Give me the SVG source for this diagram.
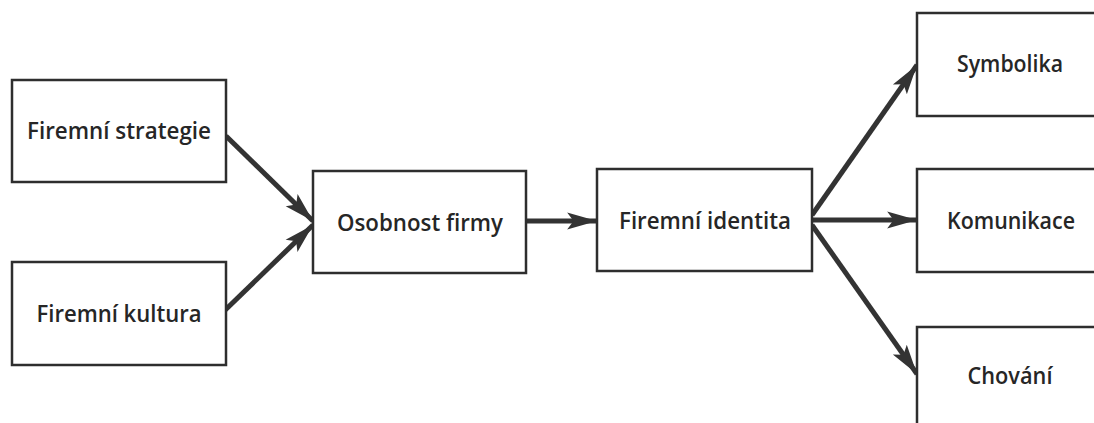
<svg xmlns="http://www.w3.org/2000/svg" width="1094" height="423" viewBox="0 0 1094 423">
<style>
.box{fill:#fff;stroke:#2e2e2e;stroke-width:2.5}
.lbl{font-family:"Open Sans","DejaVu Sans",sans-serif;font-weight:600;font-size:23px;fill:#262626;text-anchor:middle}
.con{stroke:#333;stroke-width:5;fill:none;marker-end:url(#ah)}
</style>
<defs>
<marker id="ah" markerUnits="userSpaceOnUse" markerWidth="32" markerHeight="20" refX="28" refY="9" orient="auto" viewBox="0 0 30 18">
<path d="M0,1 L28,9 L0,17 L6,9 Z" fill="#333"/>
</marker>
</defs>
<rect width="1094" height="423" fill="#fff"/>
<g id="connectors">
<line class="con" x1="226" y1="136" x2="313" y2="221"/>
<line class="con" x1="219" y1="316" x2="313" y2="225"/>
<line class="con" x1="526" y1="221" x2="597" y2="221"/>
<line class="con" x1="812" y1="215" x2="917" y2="65"/>
<line class="con" x1="812" y1="220" x2="917" y2="220"/>
<line class="con" x1="812" y1="225" x2="917" y2="374"/>
</g>
<g id="n-strategie"><rect class="box" x="12" y="80" width="214" height="102"/><text class="lbl" x="119" y="139" textLength="184" lengthAdjust="spacingAndGlyphs">Firemní strategie</text></g>
<g id="n-kultura"><rect class="box" x="12" y="262" width="214" height="103"/><text class="lbl" x="119" y="322" textLength="165" lengthAdjust="spacingAndGlyphs">Firemní kultura</text></g>
<g id="n-osobnost"><rect class="box" x="313" y="171" width="213" height="102"/><text class="lbl" x="420" y="231" textLength="166" lengthAdjust="spacingAndGlyphs">Osobnost firmy</text></g>
<g id="n-identita"><rect class="box" x="597" y="169" width="215" height="102"/><text class="lbl" x="705" y="229" textLength="172" lengthAdjust="spacingAndGlyphs">Firemní identita</text></g>
<g id="n-symbolika"><rect class="box" x="917" y="13" width="190" height="103"/><text class="lbl" x="1010" y="72" textLength="106" lengthAdjust="spacingAndGlyphs">Symbolika</text></g>
<g id="n-komunikace"><rect class="box" x="917" y="169" width="190" height="103"/><text class="lbl" x="1011" y="229" textLength="128" lengthAdjust="spacingAndGlyphs">Komunikace</text></g>
<g id="n-chovani"><rect class="box" x="917" y="327" width="190" height="110"/><text class="lbl" x="1010" y="384" textLength="85" lengthAdjust="spacingAndGlyphs">Chování</text></g>
</svg>
